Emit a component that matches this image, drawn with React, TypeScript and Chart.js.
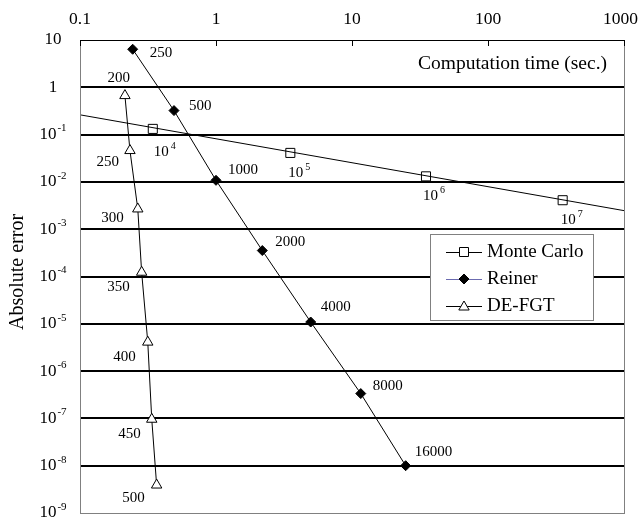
import React, { useEffect, useRef } from 'react';
import { Chart, registerables } from 'chart.js';

Chart.register(...registerables);

// ---- data ----
const xTickValues = [0.1, 1, 10, 100, 1000];
const xTickLabels = ['0.1', '1', '10', '100', '1000'];
const yTickValues = [10, 1, 1e-1, 1e-2, 1e-3, 1e-4, 1e-5, 1e-6, 1e-7, 1e-8, 1e-9];
const yTickBase = ['10', '1', '10', '10', '10', '10', '10', '10', '10', '10', '10'];
const yTickExp = ['', '', '-1', '-2', '-3', '-4', '-5', '-6', '-7', '-8', '-9'];

const mcTime = [0.343, 3.52, 35, 354];
const mcError = [0.132, 0.041, 0.0131, 0.0041];
const mcLabelExp = ['4', '5', '6', '7'];
const mcTrendTime = [0.1, 1000];
const mcTrendError = [0.262, 0.00247];

const reinerTime = [0.244, 0.491, 1.0, 2.19, 4.97, 11.6, 24.8];
const reinerError = [6.37, 0.322, 0.0108, 3.54e-4, 1.09e-5, 3.35e-7, 1.0e-8];
const reinerLabels = ['250', '500', '1000', '2000', '4000', '8000', '16000'];

const defgtTime = [0.214, 0.233, 0.266, 0.284, 0.315, 0.337, 0.366];
const defgtError = [0.668, 0.046, 0.00268, 1.23e-4, 4.1e-6, 9.6e-8, 3.9e-9];
const defgtLabels = ['200', '250', '300', '350', '400', '450', '500'];

const xTitle = 'Computation time (sec.)';
const yTitle = 'Absolute error';
const legendNames = ['Monte Carlo', 'Reiner', 'DE-FGT'];

// ---- styles ----
const FONT = '"Liberation Serif", "Times New Roman", serif';
const reinerOffsets = [[17, 4], [15, -5], [12, -10], [13, -8], [10, -15], [12, -8], [9, -14]];
const defgtOffsets = [[5, -18], [-11, 12], [-14, 9], [-12, 15], [-12, 15], [-11, 15], [-12, 13]];
const mcOffsets = [[1, 23], [-2, 20], [-3, 20], [-2, 20]];

const toPts = (xs: number[], ys: number[]) => xs.map((x, i) => ({ x, y: ys[i] }));

function drawMarker(ctx: CanvasRenderingContext2D, kind: string, x: number, y: number) {
  ctx.save();
  ctx.lineWidth = 1;
  ctx.strokeStyle = '#000';
  ctx.beginPath();
  if (kind === 'square') {
    ctx.rect(x - 4.5, y - 4.5, 9, 9);
    ctx.fillStyle = '#fff';
  } else if (kind === 'diamond') {
    ctx.moveTo(x - 5, y);
    ctx.lineTo(x, y - 5);
    ctx.lineTo(x + 5, y);
    ctx.lineTo(x, y + 5);
    ctx.closePath();
    ctx.fillStyle = '#000';
  } else {
    ctx.moveTo(x, y - 6);
    ctx.lineTo(x + 5.2, y + 3);
    ctx.lineTo(x - 5.2, y + 3);
    ctx.closePath();
    ctx.fillStyle = '#fff';
  }
  ctx.fill();
  ctx.stroke();
  ctx.restore();
}

const gridPlugin = {
  id: 'gridPlugin',
  beforeDatasetsDraw(chart: any) {
    const { ctx, chartArea: a, scales } = chart;
    const y = scales.y;
    ctx.save();
    ctx.strokeStyle = '#000';
    ctx.lineWidth = 2;
    yTickValues.forEach((v, i) => {
      if (i === 0 || i === yTickValues.length - 1) return;
      const py = Math.round(y.getPixelForValue(v));
      ctx.beginPath();
      ctx.moveTo(a.left, py);
      ctx.lineTo(a.right, py);
      ctx.stroke();
    });
    ctx.restore();
  },
};

const decorPlugin = {
  id: 'decorPlugin',
  afterDatasetsDraw(chart: any) {
    const { ctx, chartArea: a, scales } = chart;
    const xs = scales.x;
    const ys = scales.y;
    ctx.save();

    // frame
    ctx.lineWidth = 1;
    ctx.strokeStyle = '#808080';
    ctx.strokeRect(Math.round(a.left) + 0.5, Math.round(a.top) + 0.5, Math.round(a.right - a.left), Math.round(a.bottom - a.top));
    ctx.strokeStyle = '#000';
    ctx.beginPath();
    ctx.moveTo(a.left, Math.round(a.top) + 0.5);
    ctx.lineTo(a.right + 1, Math.round(a.top) + 0.5);
    ctx.stroke();

    // top ticks
    xTickValues.forEach((v) => {
      const px = Math.round(xs.getPixelForValue(v)) + 0.5;
      ctx.beginPath();
      ctx.moveTo(px, a.top);
      ctx.lineTo(px, a.top + 6);
      ctx.stroke();
    });

    // x tick labels
    ctx.fillStyle = '#000';
    ctx.font = `17.5px ${FONT}`;
    ctx.textBaseline = 'middle';
    ctx.textAlign = 'center';
    xTickValues.forEach((v, i) => {
      const w = ctx.measureText(xTickLabels[i]).width;
      let px = xs.getPixelForValue(v);
      px = Math.min(px, chart.width - 6 - w / 2);
      ctx.fillText(xTickLabels[i], px, 19);
    });

    // y tick labels
    ctx.textAlign = 'left';
    yTickValues.forEach((v, i) => {
      const py = ys.getPixelForValue(v);
      ctx.font = `17px ${FONT}`;
      const wb = ctx.measureText(yTickBase[i]).width;
      ctx.font = `11px ${FONT}`;
      const we = yTickExp[i] ? ctx.measureText(yTickExp[i]).width + 1 : 0;
      const start = 53 - (wb + we) / 2;
      ctx.font = `17px ${FONT}`;
      ctx.fillText(yTickBase[i], start, py);
      if (yTickExp[i]) {
        ctx.font = `11px ${FONT}`;
        ctx.fillText(yTickExp[i], start + wb + 1, py - 6);
      }
    });

    // titles
    ctx.font = `19.5px ${FONT}`;
    ctx.textAlign = 'right';
    ctx.fillText(xTitle, 607, 64);
    ctx.save();
    ctx.translate(18, 272);
    ctx.rotate(-Math.PI / 2);
    ctx.textAlign = 'center';
    ctx.font = `20px ${FONT}`;
    ctx.fillText(yTitle, 0, 0);
    ctx.restore();

    // point labels
    ctx.font = `15px ${FONT}`;
    const rMeta = chart.getDatasetMeta(2);
    ctx.textAlign = 'left';
    rMeta.data.forEach((p: any, i: number) => {
      ctx.fillText(reinerLabels[i], p.x + reinerOffsets[i][0], p.y + reinerOffsets[i][1]);
    });
    const dMeta = chart.getDatasetMeta(3);
    ctx.textAlign = 'right';
    dMeta.data.forEach((p: any, i: number) => {
      ctx.fillText(defgtLabels[i], p.x + defgtOffsets[i][0], p.y + defgtOffsets[i][1]);
    });
    const mMeta = chart.getDatasetMeta(1);
    ctx.textAlign = 'left';
    mMeta.data.forEach((p: any, i: number) => {
      const lx = p.x + mcOffsets[i][0];
      const ly = p.y + mcOffsets[i][1];
      ctx.font = `15px ${FONT}`;
      ctx.fillText('10', lx, ly);
      const w = ctx.measureText('10').width;
      ctx.font = `10px ${FONT}`;
      ctx.fillText(mcLabelExp[i], lx + w + 2, ly - 6);
    });

    // legend
    const bx = 430, by = 234, bw = 163, bh = 86;
    ctx.fillStyle = '#fff';
    ctx.fillRect(bx, by, bw, bh);
    ctx.strokeStyle = '#808080';
    ctx.lineWidth = 1;
    ctx.strokeRect(bx + 0.5, by + 0.5, bw, bh);
    const rows = [252, 279, 306];
    const lineColors = ['#000', '#6b6bb0', '#000'];
    const kinds = ['square', 'diamond', 'triangle'];
    rows.forEach((ry, i) => {
      ctx.strokeStyle = lineColors[i];
      ctx.lineWidth = 1;
      ctx.beginPath();
      ctx.moveTo(446, ry + 0.5);
      ctx.lineTo(482, ry + 0.5);
      ctx.stroke();
      drawMarker(ctx, kinds[i], 464, ry + (i === 2 ? 1 : 0));
      ctx.fillStyle = '#000';
      ctx.font = `19px ${FONT}`;
      ctx.textAlign = 'left';
      ctx.textBaseline = 'middle';
      ctx.fillText(legendNames[i], 487, ry);
    });

    ctx.restore();
  },
};

export default function App() {
  const ref = useRef<HTMLCanvasElement | null>(null);
  useEffect(() => {
    if (!ref.current) return;
    const chart = new Chart(ref.current, {
      type: 'scatter',
      data: {
        datasets: [
          {
            label: 'Monte Carlo trend',
            data: toPts(mcTrendTime, mcTrendError),
            showLine: true,
            borderColor: '#000',
            borderWidth: 1,
            pointRadius: 0,
          },
          {
            label: legendNames[0],
            data: toPts(mcTime, mcError),
            showLine: false,
            pointStyle: 'rect',
            pointRadius: 6.4,
            backgroundColor: '#fff',
            borderColor: '#000',
            borderWidth: 1,
          },
          {
            label: legendNames[1],
            data: toPts(reinerTime, reinerError),
            showLine: true,
            borderColor: '#000',
            borderWidth: 1,
            pointStyle: 'rectRot',
            pointRadius: 5,
            pointBackgroundColor: '#000',
            pointBorderColor: '#000',
          },
          {
            label: legendNames[2],
            data: toPts(defgtTime, defgtError),
            showLine: true,
            borderColor: '#000',
            borderWidth: 1,
            pointStyle: 'triangle',
            pointRadius: 6,
            pointBackgroundColor: '#fff',
            pointBorderColor: '#000',
          },
        ],
      },
      options: {
        responsive: false,
        animation: false,
        layout: { padding: { left: 80, top: 40, right: 20, bottom: 11 } },
        scales: {
          x: { type: 'logarithmic', position: 'top', min: 0.1, max: 1000, display: false },
          y: { type: 'logarithmic', min: 1e-9, max: 10, display: false },
        },
        plugins: {
          legend: { display: false },
          tooltip: { enabled: false },
        },
      },
      plugins: [gridPlugin, decorPlugin],
    });
    return () => chart.destroy();
  }, []);

  return (
    <div style={{ position: 'absolute', left: 0, top: 0, width: 644, height: 524, background: '#fff' }}>
      <canvas ref={ref} width={644} height={524} />
    </div>
  );
}
